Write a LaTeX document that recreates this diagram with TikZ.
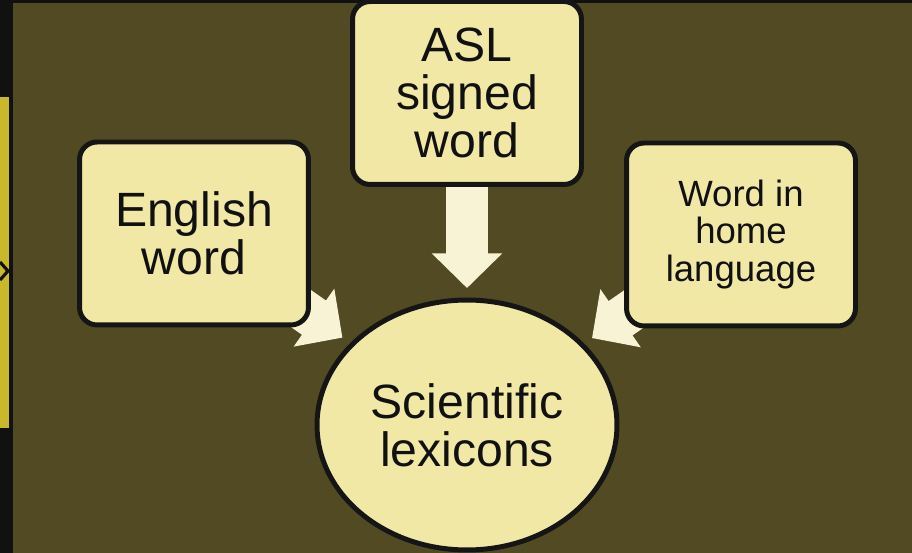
\documentclass[tikz,border=0pt]{standalone}
\usepackage{fontspec}
\setmainfont{Liberation Sans}
\usetikzlibrary{arrows.meta,shapes.geometric,backgrounds}
\definecolor{olivebg}{RGB}{82,74,35}
\definecolor{framedark}{RGB}{17,17,17}
\definecolor{sidebar}{RGB}{200,184,42}
\definecolor{boxfill}{RGB}{242,232,166}
\definecolor{arrowfill}{RGB}{247,243,212}
\definecolor{edgedark}{RGB}{21,21,21}
\begin{document}
\begin{tikzpicture}[x=0.02cm, y=-0.02cm,
  termbox/.style={draw=edgedark,line width=2.83pt,fill=boxfill,rounded corners=10pt,
    minimum width=4.58cm,minimum height=3.66cm,inner sep=0pt,align=center,text=framedark},
  bigfont/.style={font=\fontsize{27.4}{27.3}\selectfont},
  smallfont/.style={font=\fontsize{20.8}{21.3}\selectfont},
  bigarrow/.style={arrowfill,line width=23.8pt,-{Triangle[length=19.8pt,width=39.1pt]},shorten >=5.4pt}]
\useasboundingbox (0,0) rectangle (912,553);
% nodes
\node[termbox,bigfont] (english) at (194,233.5) {English\\word};
\node[termbox,bigfont] (asl) at (467,93) {ASL\\signed\\word};
\node[termbox,smallfont] (home) at (741,234.5) {Word in\\home\\language};
\node[ellipse,draw=edgedark,line width=2.83pt,fill=boxfill,minimum width=6cm,minimum height=5cm,
  inner sep=0pt,align=center,text=framedark,bigfont] (lex) at (467,425) {Scientific\\lexicons};
\begin{pgfonlayer}{background}
% frame and side bar
\fill[framedark] (0,0) rectangle (912,553);
\fill[olivebg] (13,3) rectangle (912,553);
\fill[sidebar] (0,97) rectangle (9,428);
\draw[framedark,line width=1.8pt] (0,262) -- (8,271) -- (0,280);
% block arrows
\draw[bigarrow] (english.center) -- (lex);
\draw[bigarrow] (asl.center) -- (lex);
\draw[bigarrow] (home.center) -- (lex);
\end{pgfonlayer}
\end{tikzpicture}
\end{document}
